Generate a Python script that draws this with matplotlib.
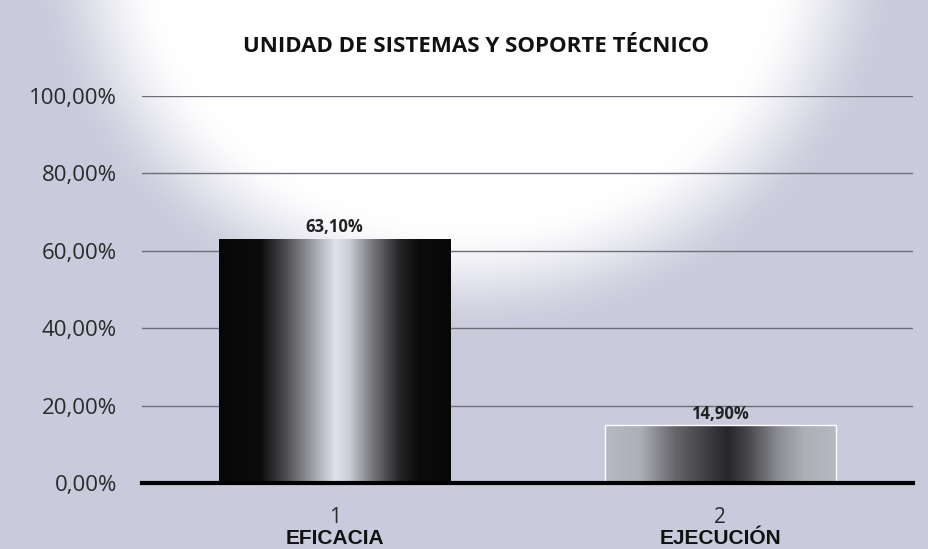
import numpy as np
import matplotlib
matplotlib.use('Agg')
import matplotlib.pyplot as plt
from matplotlib.transforms import blended_transform_factory

# data
numbers = ['1', '2']
names = ['EFICACIA', 'EJECUCIÓN']
values = [0.631, 0.149]
value_labels = ['63,10%', '14,90%']
yticks = [0, 0.2, 0.4, 0.6, 0.8, 1.0]
ytick_labels = ['0,00%', '20,00%', '40,00%', '60,00%', '80,00%', '100,00%']
title = 'UNIDAD DE SISTEMAS Y SOPORTE TÉCNICO'

W, H = 929, 549
fig = plt.figure(figsize=(W / 100, H / 100), dpi=100)

# background: lavender grey with a white glow at the top centre
bg = np.array([0.790, 0.795, 0.860])
yy, xx = np.mgrid[0:H, 0:W]
d = np.sqrt(((xx - 465) / 440.0) ** 2 + ((yy + 60) / 400.0) ** 2)
glow = np.clip((1.0 - d) / 0.30, 0, 1)
glow = glow * glow * (3 - 2 * glow)
img = bg[None, None, :] * (1 - glow[..., None]) + glow[..., None]
bax = fig.add_axes([0, 0, 1, 1], zorder=0)
bax.imshow(img, extent=(0, W, H, 0), aspect='auto', interpolation='bilinear')
bax.set_xlim(0, W)
bax.set_ylim(H, 0)
bax.axis('off')

ax = fig.add_axes([142 / W, (H - 483) / H, (913 - 142) / W, (483 - 96) / H], zorder=1)
ax.patch.set_alpha(0)

x = np.arange(len(values))
bars = ax.bar(x, values, width=0.6, color='none', zorder=3)

# metallic gradients across each bar
prof1_t = [0, 0.18, 0.30, 0.42, 0.50, 0.56, 0.66, 0.78, 0.86, 1]
prof1_v = [0.03, 0.05, 0.35, 0.70, 0.93, 0.85, 0.50, 0.15, 0.05, 0.03]
prof2_t = [0, 0.15, 0.30, 0.45, 0.53, 0.62, 0.75, 0.86, 1]
prof2_v = [0.76, 0.72, 0.42, 0.25, 0.16, 0.30, 0.58, 0.72, 0.76]
tint = np.array([0.95, 0.95, 1.0])
for rect, (pt, pv) in zip(bars, [(prof1_t, prof1_v), (prof2_t, prof2_v)]):
    t = np.linspace(0, 1, 256)
    lvl = np.interp(t, pt, pv)
    grad = (lvl[:, None] * tint[None, :])[None, :, :]
    x0, w, h = rect.get_x(), rect.get_width(), rect.get_height()
    im = ax.imshow(grad, extent=(x0, x0 + w, 0, h), aspect='auto', zorder=2,
                   interpolation='bilinear')
    im.set_clip_path(rect)
bars[1].set_edgecolor('white')
bars[1].set_linewidth(1)

ax.set_xlim(-0.5, 1.5)
ax.set_ylim(0, 1)

ax.set_yticks(yticks)
ax.set_yticklabels(ytick_labels, fontsize=16, family='Open Sans', color='#2a2a2a')
ax.tick_params(axis='y', length=0, pad=18)
ax.grid(axis='y', color='#6e6e78', lw=1, zorder=1)
ax.set_axisbelow(True)
for s in ['left', 'right', 'top']:
    ax.spines[s].set_visible(False)
ax.spines['bottom'].set_linewidth(3)
ax.spines['bottom'].set_color('black')
ax.spines['bottom'].set_zorder(4)

ax.set_xticks(x)
ax.set_xticklabels(numbers, fontsize=15, family='Open Sans', color='#2a2a2a')
ax.tick_params(axis='x', length=0, pad=17)
tr = blended_transform_factory(ax.transData, fig.transFigure)
for xi, nm in zip(x, names):
    ax.text(xi, (H - 539) / H, nm, transform=tr, ha='center', va='center',
            fontsize=15, fontweight='bold', family='Liberation Sans', color='#111111')

for rect, lab in zip(bars, value_labels):
    ax.annotate(lab, (rect.get_x() + rect.get_width() / 2, rect.get_height()),
                xytext=(0, 2), textcoords='offset points', ha='center', va='bottom',
                fontsize=12, fontweight='bold', family='Open Sans', color='#222222',
                zorder=5)

fig.text(476 / W, (H - 47) / H, title, ha='center', va='center', fontsize=16,
         fontweight='bold', family='Open Sans', color='#111111')

fig.savefig('out.png', dpi=100)
